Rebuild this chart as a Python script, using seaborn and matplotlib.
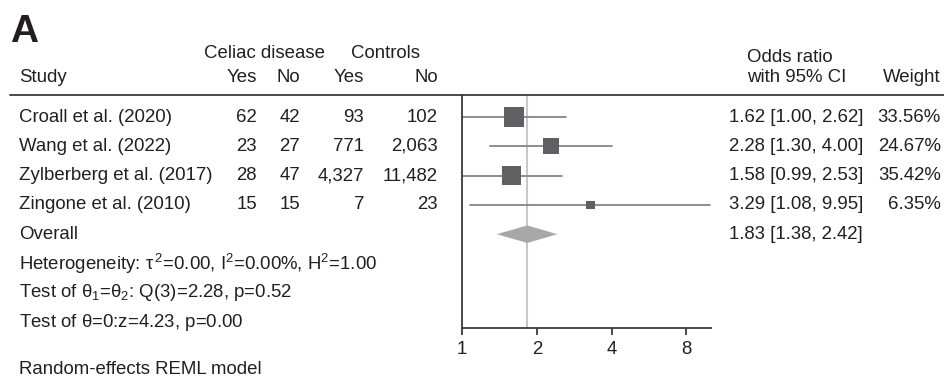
import numpy as np
import pandas as pd
import matplotlib
matplotlib.use("Agg")
import matplotlib.pyplot as plt
import seaborn as sns
from matplotlib.ticker import FixedLocator, FixedFormatter, NullLocator

# ---- data ----
studies = ["Croall et al. (2020)", "Wang et al. (2022)",
           "Zylberberg et al. (2017)", "Zingone et al. (2010)"]
celiac_yes = ["62", "23", "28", "15"]
celiac_no = ["42", "27", "47", "15"]
control_yes = ["93", "771", "4,327", "7"]
control_no = ["102", "2,063", "11,482", "23"]
odds_ratio = [1.62, 2.28, 1.58, 3.29]
ci_low = [1.00, 1.30, 0.99, 1.08]
ci_high = [2.62, 4.00, 2.53, 9.95]
weights = [33.56, 24.67, 35.42, 6.35]
overall_or = 1.83
overall_low = 1.38
overall_high = 2.42
x_ticks = [1, 2, 4, 8]
x_tick_labels = ["1", "2", "4", "8"]
stats_lines = [
    "Heterogeneity: $\\tau^{\\,2}$=0.00, I$^2$=0.00%, H$^2$=1.00",
    "Test of $\\theta_1$=$\\theta_2$: Q(3)=2.28, p=0.52",
    "Test of $\\theta$=0:z=4.23, p=0.00",
]
footnote = "Random-effects REML model"

sns.set_theme(style="white")
plt.rcParams["font.family"] = ["Liberation Sans", "DejaVu Sans"]
plt.rcParams["mathtext.default"] = "regular"

W, H = 944, 388
DPI = 100
fig = plt.figure(figsize=(W / DPI, H / DPI), dpi=DPI)
TXT = "#231f20"
FS = 13.4

# plot panel placement (pixels)
x0, x1 = 462, 711
ytop, ybot = 95, 328
ax = fig.add_axes([x0 / W, 1 - ybot / H, (x1 - x0) / W, (ybot - ytop) / H])

row0, dy = 117, 29.3
def row_to_data(py):
    return (py - row0) / dy

ax.set_xscale("log", base=2)
ax.set_xlim(1, 10.05)
ax.set_ylim(row_to_data(ybot), row_to_data(ytop))

df = pd.DataFrame({"study": studies, "or": odds_ratio, "lo": ci_low,
                   "hi": ci_high, "w": weights,
                   "row": np.arange(len(studies), dtype=float)})

# reference line at overall estimate
ax.axvline(overall_or, color="#c8c8c8", lw=1.5, zorder=1)

# CI lines
for _, r in df.iterrows():
    ax.plot([max(r["lo"], 1.0), r["hi"]], [r["row"], r["row"]],
            color="#858585", lw=1.3, zorder=2, clip_on=True)

# squares sized by weight (side ~ sqrt(weight))
side_px = 3.3 * np.sqrt(df["w"].values)
df["msize"] = (side_px * 72 / DPI) ** 2
sns.scatterplot(data=df, x="or", y="row", marker="s", s=df["msize"].values,
                color="#606064", edgecolor="none", linewidth=0, ax=ax,
                zorder=3, legend=False)

# overall diamond
ov_row = len(studies)
hh = 0.30
ax.fill([overall_low, overall_or, overall_high, overall_or],
        [ov_row, ov_row - hh, ov_row, ov_row + hh],
        color="#a8a8a8", lw=0, zorder=3)

# axes styling
for s in ["top", "right"]:
    ax.spines[s].set_visible(False)
for s in ["left", "bottom"]:
    ax.spines[s].set_color("#3a3a3a")
    ax.spines[s].set_linewidth(1.3)
ax.xaxis.set_major_locator(FixedLocator(x_ticks))
ax.xaxis.set_major_formatter(FixedFormatter(x_tick_labels))
ax.xaxis.set_minor_locator(NullLocator())
ax.tick_params(axis="x", direction="out", length=5, width=1.3,
               color="#3a3a3a", labelsize=FS, labelcolor=TXT, pad=4,
               bottom=True)
ax.set_yticks([])
ax.set_xlabel("")
ax.set_ylabel("")
ax.patch.set_alpha(0)

# ---- text helpers (figure pixel coordinates) ----
def ftext(px, py, s, ha="left", va="center", **kw):
    kw.setdefault("fontsize", FS)
    kw.setdefault("color", TXT)
    fig.text(px / W, 1 - py / H, s, ha=ha, va=va, **kw)

# panel letter
ftext(10, 42, "A", va="baseline", fontsize=28, fontweight="bold",
      family=["Liberation Sans Narrow", "Liberation Sans"])

# header line
fig.add_artist(plt.Line2D([10 / W, 1.0], [1 - 95 / H, 1 - 95 / H],
                          color="#3a3a3a", lw=1.3, transform=fig.transFigure))

# headers
ftext(264, 53, "Celiac disease", ha="center")
ftext(386, 53, "Controls", ha="center")
ftext(19, 77, "Study")
ftext(257, 77, "Yes", ha="right")
ftext(300, 77, "No", ha="right")
ftext(364, 77, "Yes", ha="right")
ftext(438, 77, "No", ha="right")
ftext(747, 57, "Odds ratio")
ftext(747, 77, "with 95% CI")
ftext(941, 77, "Weight", ha="right")

rows_py = [row0 + dy * i for i in range(8)]
for i in range(len(studies)):
    py = rows_py[i]
    ftext(19, py, studies[i])
    ftext(257, py, celiac_yes[i], ha="right")
    ftext(300, py, celiac_no[i], ha="right")
    ftext(364, py, control_yes[i], ha="right")
    ftext(438, py, control_no[i], ha="right")
    ftext(729, py, f"{odds_ratio[i]:.2f} [{ci_low[i]:.2f}, {ci_high[i]:.2f}]")
    ftext(941, py, f"{weights[i]:.2f}%", ha="right")

ftext(19, rows_py[4], "Overall")
ftext(729, rows_py[4], f"{overall_or:.2f} [{overall_low:.2f}, {overall_high:.2f}]")
for j, s in enumerate(stats_lines):
    ftext(19, rows_py[5 + j], s)
ftext(19, 370, footnote)

fig.savefig("out.png", dpi=DPI)
